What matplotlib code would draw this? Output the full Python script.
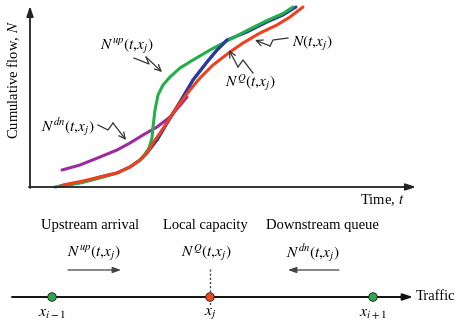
import matplotlib
matplotlib.use("Agg")
import matplotlib.pyplot as plt

plt.rcParams['mathtext.fontset'] = 'stix'
plt.rcParams['font.family'] = ['Liberation Serif', 'DejaVu Serif']

# Curves (pixel-space coordinates of the diagram: x right, y down)
green_x = [55, 80, 100, 117, 130, 140, 145, 149, 152, 153, 155, 158, 163, 170, 180, 193, 210, 227, 247, 267, 283, 293]
green_y = [187, 183, 178, 173, 167, 160, 154, 148, 138, 127, 110, 95, 85, 77, 68, 60, 50, 41, 30.5, 20.5, 13.5, 7]
blue_x = [60, 83, 100, 117, 130, 140, 147, 157, 167, 180, 193, 207, 217, 227, 247, 267, 283, 296]
blue_y = [186, 182, 177, 173, 167, 160, 153, 140, 123, 102, 80, 62, 50, 40, 32, 22, 15, 7]
red_x = [63, 83, 100, 117, 130, 140, 147, 153, 160, 170, 180, 190, 200, 213, 230, 243, 260, 277, 290, 303]
red_y = [185, 181, 177, 173, 167, 160, 153, 143, 133, 118, 103, 90, 78, 65, 52, 43, 33, 25, 17, 7]
purple_x = [62, 80, 100, 117, 130, 143, 157, 170, 182, 187]
purple_y = [170, 165, 157, 150, 143, 135, 127, 117, 103, 97]

labels_top = [r'$N^{up}(t{,}x_j)$', r'$N^{dn}(t{,}x_j)$', r'$N(t{,}x_j)$', r'$N^{Q}(t{,}x_j)$']
label_pos = [(127, 46), (68, 127), (312, 43), (250, 83)]
squiggles = [
    [(134, 58), (149, 64), (146, 57), (162, 72)],
    [(98, 125), (108, 130), (113, 123), (126, 140)],
    [(288, 38), (273, 40), (270, 46), (255, 40)],
    [(253, 73), (243, 60), (238, 67), (229, 50)],
]

nodes_x = [52, 210, 373]
node_colors = ['#2ca84a', '#ee4a22', '#2ca84a']
node_labels = [r'$x_{i-1}$', r'$x_j$', r'$x_{i+1}$']
headers = ['Upstream arrival', 'Local capacity', 'Downstream queue']
header_x = [90, 205, 322]
flow_labels = [r'$N^{up}(t{,}x_j)$', r'$N^{Q}(t{,}x_j)$', r'$N^{dn}(t{,}x_j)$']
flow_x = [94, 206, 313]

W, H = 456, 322
fig = plt.figure(figsize=(W / 100, H / 100), dpi=100)
ax = fig.add_axes([0, 0, 1, 1])
ax.set_xlim(0, W)
ax.set_ylim(H, 0)
ax.axis('off')

def arrow(p_to, p_from, lw=1.3, color='#222222', style='-|>,head_length=0.6,head_width=0.2'):
    ax.annotate('', xy=p_to, xytext=p_from,
                arrowprops=dict(arrowstyle=style, lw=lw, color=color, shrinkA=0, shrinkB=0))

# axes of the top diagram
arrow((30, 6), (30, 188))
arrow((416, 187), (29, 187))
ax.text(14, 80, r'Cumulative flow, $N$', rotation=90, ha='center', va='center', fontsize=10.5)
ax.text(405, 200, r'Time, $t$', ha='right', va='center', fontsize=10.5)

lw = 2.2
ax.plot(purple_x, purple_y, color='#9b2b9e', lw=lw, solid_capstyle='round', solid_joinstyle='round')
ax.plot(blue_x, blue_y, color='#2b3a9e', lw=lw, solid_capstyle='round', solid_joinstyle='round')
ax.plot(green_x, green_y, color='#22b04b', lw=lw, solid_capstyle='round', solid_joinstyle='round')
ax.plot(blue_x[7:14], blue_y[7:14], color='#2b3a9e', lw=lw, solid_capstyle='round', solid_joinstyle='round')
ax.plot(red_x, red_y, color='#f0401e', lw=lw, solid_capstyle='round', solid_joinstyle='round')

for lab, (lx, ly) in zip(labels_top, label_pos):
    ax.text(lx, ly, lab, ha='center', va='center', fontsize=11)

for pts in squiggles:
    xs = [p[0] for p in pts]
    ys = [p[1] for p in pts]
    ax.plot(xs[:-1], ys[:-1], color='#333333', lw=0.9)
    arrow(pts[-1], pts[-2], lw=0.9, color='#333333', style='->,head_length=0.45,head_width=0.22')

# bottom diagram
for hx, ht in zip(header_x, headers):
    ax.text(hx, 225, ht, ha='center', va='center', fontsize=10.5)
for fx, ft in zip(flow_x, flow_labels):
    ax.text(fx, 253, ft, ha='center', va='center', fontsize=11)

arrow((121, 270), (68, 270), lw=0.9, color='#444444', style='-|>,head_length=0.5,head_width=0.18')
arrow((288, 270), (339, 270), lw=0.9, color='#444444', style='-|>,head_length=0.5,head_width=0.18')
ax.plot([210, 210], [269, 306], color='#444444', lw=1.0, ls=(0, (1.5, 1.5)))

arrow((413, 297), (12, 297), lw=1.4, color='#111111')
ax.text(416, 297, 'Traffic', ha='left', va='center', fontsize=10.5)

ax.scatter(nodes_x, [297] * 3, s=38, c=node_colors, edgecolors='#1a1a1a', linewidths=0.6, zorder=5)
for nx, nl in zip(nodes_x, node_labels):
    ax.text(nx, 313, nl, ha='center', va='center', fontsize=11.5)

fig.savefig('out.png', dpi=100)
